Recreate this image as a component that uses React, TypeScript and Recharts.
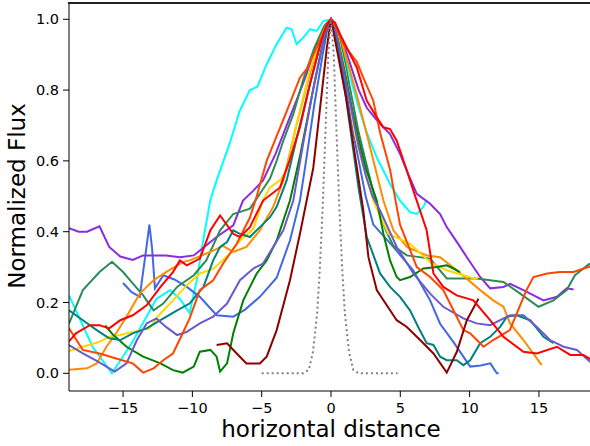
import { LineChart, Line, XAxis, YAxis } from "recharts";

type Pt = [number, number];

const xTicks = [-15, -10, -5, 0, 5, 10, 15];
const yTicks = [0, 0.2, 0.4, 0.6, 0.8, 1.0];
const xDomain: [number, number] = [-18.9, 18.9];
const yDomain: [number, number] = [-0.05, 1.046];

const cyan: Pt[] = [[-18.9,0.22],[-17.2,0.075],[-15.8,0.0],[-14.3,0.09],[-12.6,0.21],[-11.6,0.235],[-10.9,0.21],[-10.2,0.17],[-9.7,0.26],[-9.2,0.38],[-8.7,0.49],[-8.25,0.545],[-7.3,0.65],[-6.6,0.74],[-5.85,0.8],[-5.3,0.81],[-4.64,0.873],[-3.92,0.93],[-3.2,0.976],[-2.84,0.972],[-2.48,0.93],[-2.0,0.948],[-1.5,0.972],[-1.03,0.967],[-0.56,0.995],[0,1.0],[0.5,0.97],[1.0,0.9],[1.5,0.82],[2.0,0.75],[2.58,0.68],[3.3,0.61],[4.26,0.535],[4.98,0.488],[5.7,0.455],[6.19,0.45],[6.66,0.47],[6.9,0.49]];

const royalblue: Pt[] = [[-15.0,0.255],[-14.4,0.23],[-13.8,0.216],[-13.4,0.33],[-13.1,0.42],[-12.9,0.35],[-12.7,0.24],[-12.1,0.277],[-11.3,0.265],[-10.4,0.244],[-9.46,0.216],[-8.25,0.164],[-7.05,0.16],[-6.2,0.18],[-5.13,0.216],[-3.92,0.27],[-2.96,0.375],[-2.24,0.488],[-1.8,0.6],[-1.2,0.76],[-0.6,0.9],[-0.25,0.975],[0,1.0],[0.25,0.97],[0.5,0.93],[1.0,0.82],[1.5,0.7],[2.0,0.6],[2.5,0.5],[3.05,0.42],[4.5,0.357],[5.94,0.29],[7.15,0.206],[7.87,0.14],[8.8,0.09],[9.55,0.047],[10.04,0.019],[10.8,0.022],[11.5,0.028],[11.96,0.0],[12.1,0.0]];

const blueviolet: Pt[] = [[-18.9,0.41],[-18.2,0.4],[-17.6,0.4],[-16.7,0.415],[-16.0,0.357],[-15.2,0.33],[-14.3,0.32],[-13.55,0.333],[-11.9,0.333],[-10.9,0.328],[-9.9,0.333],[-9.46,0.347],[-8.25,0.385],[-7.05,0.418],[-6.35,0.488],[-5.6,0.516],[-4.9,0.545],[-4.0,0.62],[-3.0,0.72],[-2.0,0.82],[-1.0,0.93],[-0.4,0.985],[0,1.0],[0.5,0.97],[1.0,0.92],[1.5,0.86],[2.0,0.8],[2.58,0.75],[3.4,0.71],[4.26,0.676],[4.98,0.62],[5.6,0.56],[6.19,0.507],[7.15,0.479],[7.87,0.45],[8.35,0.413],[9.1,0.37],[9.8,0.328],[10.76,0.272],[11.48,0.24],[12.44,0.244],[12.92,0.253],[13.88,0.235],[15.33,0.206],[16.3,0.216],[17.0,0.24],[17.5,0.237]];

const seagreen: Pt[] = [[-18.9,0.14],[-17.9,0.235],[-16.7,0.286],[-15.8,0.315],[-15.0,0.286],[-14.3,0.254],[-13.55,0.22],[-12.8,0.178],[-12.1,0.197],[-11.1,0.244],[-9.9,0.277],[-9.0,0.319],[-8.0,0.404],[-7.05,0.45],[-5.85,0.465],[-5.13,0.507],[-4.4,0.55],[-3.92,0.6],[-3.44,0.657],[-2.72,0.732],[-2.0,0.83],[-1.2,0.92],[-0.5,0.98],[0,1.0],[0.5,0.96],[1.0,0.88],[1.5,0.78],[2.0,0.68],[2.5,0.6],[3.0,0.52],[3.5,0.45],[4.0,0.4],[4.5,0.36],[5.47,0.333],[7.15,0.324],[8.35,0.268],[10.5,0.268],[12.44,0.258],[13.65,0.225],[14.97,0.188],[16.05,0.206],[17.0,0.235],[17.6,0.277],[18.6,0.308],[18.9,0.31]];

const red: Pt[] = [[-18.9,0.09],[-18.4,0.113],[-17.4,0.136],[-16.7,0.136],[-16.0,0.127],[-15.2,0.15],[-14.3,0.164],[-13.3,0.192],[-12.3,0.244],[-11.4,0.286],[-10.9,0.319],[-10.4,0.305],[-9.46,0.324],[-8.7,0.404],[-8.0,0.446],[-7.05,0.394],[-6.57,0.385],[-5.85,0.413],[-4.9,0.488],[-3.68,0.525],[-3.0,0.6],[-2.24,0.695],[-1.5,0.82],[-0.7,0.94],[-0.3,0.985],[0,1.0],[0.3,0.99],[0.65,0.958],[1.86,0.864],[2.58,0.77],[3.3,0.723],[3.78,0.695],[4.26,0.69],[4.74,0.657],[5.47,0.573],[5.94,0.516],[6.9,0.404],[7.39,0.282],[8.1,0.244],[9.07,0.22],[10.27,0.206],[11.48,0.15],[12.44,0.103],[13.88,0.061],[14.85,0.056],[16.3,0.075],[17.26,0.052],[18.2,0.052],[18.9,0.035]];

const orangered: Pt[] = [[-18.9,0.127],[-17.9,0.066],[-16.7,0.056],[-15.5,0.042],[-14.3,0.028],[-13.55,0.002],[-12.8,0.014],[-12.1,0.037],[-11.4,0.056],[-10.7,0.113],[-10.2,0.155],[-9.46,0.235],[-8.5,0.263],[-7.78,0.31],[-6.8,0.366],[-5.85,0.44],[-5.36,0.5],[-4.64,0.6],[-3.92,0.67],[-3.2,0.74],[-2.24,0.835],[-1.75,0.86],[-0.8,0.94],[-0.3,0.985],[0,1.0],[0.4,0.975],[0.89,0.93],[1.86,0.88],[2.33,0.835],[3.05,0.77],[3.54,0.68],[4.26,0.575],[4.74,0.47],[4.98,0.42],[6.19,0.3],[7.15,0.272],[8.1,0.235],[8.83,0.178],[9.55,0.122],[10.04,0.113],[11.0,0.075],[11.7,0.094],[12.9,0.122],[14.1,0.235],[14.6,0.272],[15.6,0.282],[16.5,0.286],[17.5,0.286],[18.9,0.305]];

const darkorange: Pt[] = [[-18.9,0.01],[-17.6,0.014],[-16.9,0.028],[-16.2,0.075],[-15.5,0.113],[-14.75,0.16],[-13.8,0.225],[-12.8,0.263],[-11.9,0.286],[-10.7,0.314],[-10.2,0.319],[-8.7,0.343],[-7.78,0.36],[-7.05,0.343],[-6.1,0.357],[-5.13,0.404],[-4.17,0.47],[-3.44,0.545],[-2.5,0.7],[-1.5,0.85],[-0.7,0.95],[-0.3,0.985],[0,1.0],[0.6,0.96],[1.2,0.88],[1.9,0.78],[2.58,0.676],[3.3,0.563],[3.78,0.488],[4.5,0.404],[5.47,0.357],[6.9,0.333],[7.87,0.328],[9.07,0.291],[10.76,0.235],[11.7,0.206],[12.44,0.188],[12.92,0.141],[13.88,0.094],[15.2,0.023]];

const gold: Pt[] = [[-18.9,0.063],[-17.9,0.075],[-16.7,0.089],[-16.0,0.103],[-15.2,0.108],[-14.3,0.117],[-13.1,0.127],[-12.3,0.169],[-11.4,0.206],[-10.4,0.249],[-9.46,0.282],[-8.5,0.295],[-7.3,0.338],[-6.57,0.375],[-5.6,0.408],[-4.9,0.49],[-4.4,0.525],[-3.68,0.545],[-3.2,0.573],[-2.5,0.7],[-1.5,0.86],[-0.7,0.95],[-0.3,0.985],[0,1.0],[0.5,0.95],[1.0,0.86],[1.73,0.676],[2.33,0.582],[3.05,0.488],[3.6,0.44],[4.14,0.394],[5.7,0.366],[7.15,0.314],[8.35,0.291],[9.55,0.277],[10.3,0.268],[10.6,0.27]];

const green: Pt[] = [[-16.3,0.135],[-15.7,0.108],[-14.75,0.075],[-13.55,0.047],[-12.3,0.028],[-11.4,0.009],[-10.7,0.002],[-9.9,0.019],[-9.46,0.061],[-8.7,0.066],[-8.25,0.047],[-8.0,0.005],[-7.5,0.028],[-7.05,0.113],[-6.33,0.206],[-5.36,0.282],[-4.64,0.319],[-3.92,0.375],[-2.96,0.488],[-2.2,0.62],[-1.4,0.78],[-0.6,0.93],[-0.25,0.98],[0,1.0],[0.25,0.98],[0.5,0.94],[1.0,0.85],[1.5,0.75],[2.0,0.66],[2.5,0.58],[3.3,0.488],[3.78,0.394],[4.26,0.319],[4.74,0.272],[4.98,0.263],[5.7,0.272],[6.66,0.296],[7.63,0.3],[8.35,0.305],[8.83,0.296],[9.3,0.286]];

const teal: Pt[] = [[-18.9,0.178],[-17.9,0.15],[-16.9,0.122],[-16.0,0.099],[-15.2,0.094],[-14.3,0.113],[-13.3,0.127],[-12.3,0.15],[-11.1,0.178],[-10.2,0.197],[-9.2,0.244],[-8.5,0.319],[-8.0,0.357],[-7.5,0.371],[-7.05,0.404],[-6.57,0.394],[-5.85,0.385],[-5.13,0.413],[-4.4,0.441],[-3.92,0.47],[-3.2,0.545],[-2.5,0.66],[-1.5,0.82],[-0.7,0.94],[-0.25,0.985],[0,1.0],[0.25,0.97],[0.5,0.92],[1.0,0.8],[1.5,0.66],[2.0,0.52],[2.58,0.385],[3.54,0.282],[4.26,0.244],[4.98,0.216],[5.7,0.178],[6.3,0.13],[6.9,0.085],[7.39,0.08],[7.87,0.047],[8.35,0.037],[9.07,0.037],[9.55,0.023],[10.04,0.037],[10.76,0.085],[11.48,0.103],[12.2,0.131],[12.7,0.16],[13.4,0.164],[14.37,0.15],[15.33,0.103],[16.05,0.085]];

const darkred: Pt[] = [[-8.25,0.08],[-7.5,0.085],[-6.8,0.056],[-6.1,0.028],[-5.13,0.028],[-4.64,0.047],[-3.92,0.122],[-2.96,0.263],[-2.24,0.394],[-1.28,0.58],[-0.67,0.79],[-0.3,0.92],[0,1.0],[0.5,0.9],[1.13,0.77],[1.86,0.582],[2.33,0.46],[2.7,0.328],[3.3,0.235],[4.26,0.178],[4.74,0.15],[5.47,0.131],[6.43,0.094],[7.39,0.056],[8.35,0.002],[9.07,0.06],[9.8,0.15],[10.64,0.211]];

const slateblue: Pt[] = [[-18.9,0.08],[-17.9,0.056],[-16.9,0.035],[-16.2,0.019],[-15.6,0.005],[-14.75,0.028],[-14.0,0.094],[-13.3,0.141],[-12.6,0.155],[-11.9,0.131],[-11.1,0.108],[-10.4,0.117],[-9.46,0.141],[-8.5,0.16],[-7.5,0.197],[-6.57,0.263],[-5.6,0.296],[-4.9,0.31],[-4.17,0.357],[-3.44,0.404],[-2.72,0.488],[-2.0,0.65],[-1.2,0.82],[-0.5,0.95],[-0.2,0.985],[0,1.0],[0.25,0.98],[0.5,0.94],[1.0,0.84],[1.5,0.74],[2.0,0.64],[2.5,0.56],[3.0,0.5],[3.54,0.46],[4.74,0.357],[5.94,0.282],[7.15,0.225],[8.1,0.188],[9.55,0.155],[10.5,0.141],[11.48,0.136],[12.2,0.15],[12.92,0.164],[13.88,0.164],[14.85,0.131],[15.8,0.094],[16.77,0.075],[17.74,0.066],[18.9,0.025]];

const psf: Pt[] = [[-5,0],[-2,0],[-1.6,0.01],[-1.3,0.06],[-1.0,0.17],[-0.8,0.3],[-0.6,0.47],[-0.4,0.68],[-0.2,0.9],[0,1.0],[0.2,0.9],[0.4,0.68],[0.6,0.47],[0.8,0.3],[1.0,0.17],[1.3,0.06],[1.6,0.01],[2,0],[4.8,0]];

const series: { name: string; color: string; pts: Pt[] }[] = [
  { name: "cyan", color: "#00ffff", pts: cyan },
  { name: "royalblue", color: "#4169e1", pts: royalblue },
  { name: "blueviolet", color: "#8a2be2", pts: blueviolet },
  { name: "seagreen", color: "#2e8b57", pts: seagreen },
  { name: "darkorange", color: "#ff8c00", pts: darkorange },
  { name: "gold", color: "#ffd700", pts: gold },
  { name: "green", color: "#008000", pts: green },
  { name: "teal", color: "#008080", pts: teal },
  { name: "slateblue", color: "#6a5acd", pts: slateblue },
  { name: "orangered", color: "#ff4500", pts: orangered },
  { name: "darkred", color: "#8b0000", pts: darkred },
  { name: "red", color: "#ff0000", pts: red },
];

const toRows = (pts: Pt[]) => pts.map(([x, y]) => ({ x, y }));
const fmtX = (v: number) => (v < 0 ? `\u2212${-v}` : `${v}`);
const font = "DejaVu Sans";
const tickStyle = { fill: "#000", fontSize: 14.5, fontFamily: font };

export default function App() {
  return (
    <div style={{ position: "absolute", left: 0, top: 0, width: 590, height: 446, overflow: "hidden", background: "#fff" }}>
      <LineChart width={600} height={446} margin={{ top: 3, right: 7, bottom: 0, left: 0 }}>
        <XAxis
          type="number"
          dataKey="x"
          domain={xDomain}
          ticks={xTicks}
          tickFormatter={fmtX}
          allowDataOverflow
          height={55}
          tick={tickStyle}
          tickSize={6}
          tickMargin={6}
          stroke="#000"
          tickLine={{ stroke: "#000" }}
          label={{
            content: () => (
              <text x={331} y={437} textAnchor="middle" fontSize={23} fontFamily={font} fill="#000">
                horizontal distance
              </text>
            ),
          }}
        />
        <YAxis
          type="number"
          domain={yDomain}
          ticks={yTicks}
          tickFormatter={(v: number) => v.toFixed(1)}
          allowDataOverflow
          width={69}
          tick={tickStyle}
          tickSize={6}
          tickMargin={4}
          stroke="#000"
          tickLine={{ stroke: "#000" }}
          label={{
            content: () => (
              <text x={25} y={196} transform="rotate(-90 25 196)" textAnchor="middle" fontSize={23} fontFamily={font} fill="#000">
                Normalized Flux
              </text>
            ),
          }}
        />
        {series.map((s) => (
          <Line
            key={s.name}
            data={toRows(s.pts)}
            dataKey="y"
            type="linear"
            stroke={s.color}
            strokeWidth={2}
            dot={false}
            isAnimationActive={false}
          />
        ))}
        <Line
          data={toRows(psf)}
          dataKey="y"
          type="linear"
          stroke="#808080"
          strokeWidth={2}
          strokeDasharray="2 3"
          dot={false}
          isAnimationActive={false}
        />
      </LineChart>
      {/* top spine of the axes box */}
      <div style={{ position: "absolute", left: 68, top: 2, width: 530, height: 2, background: "#222" }} />
    </div>
  );
}
